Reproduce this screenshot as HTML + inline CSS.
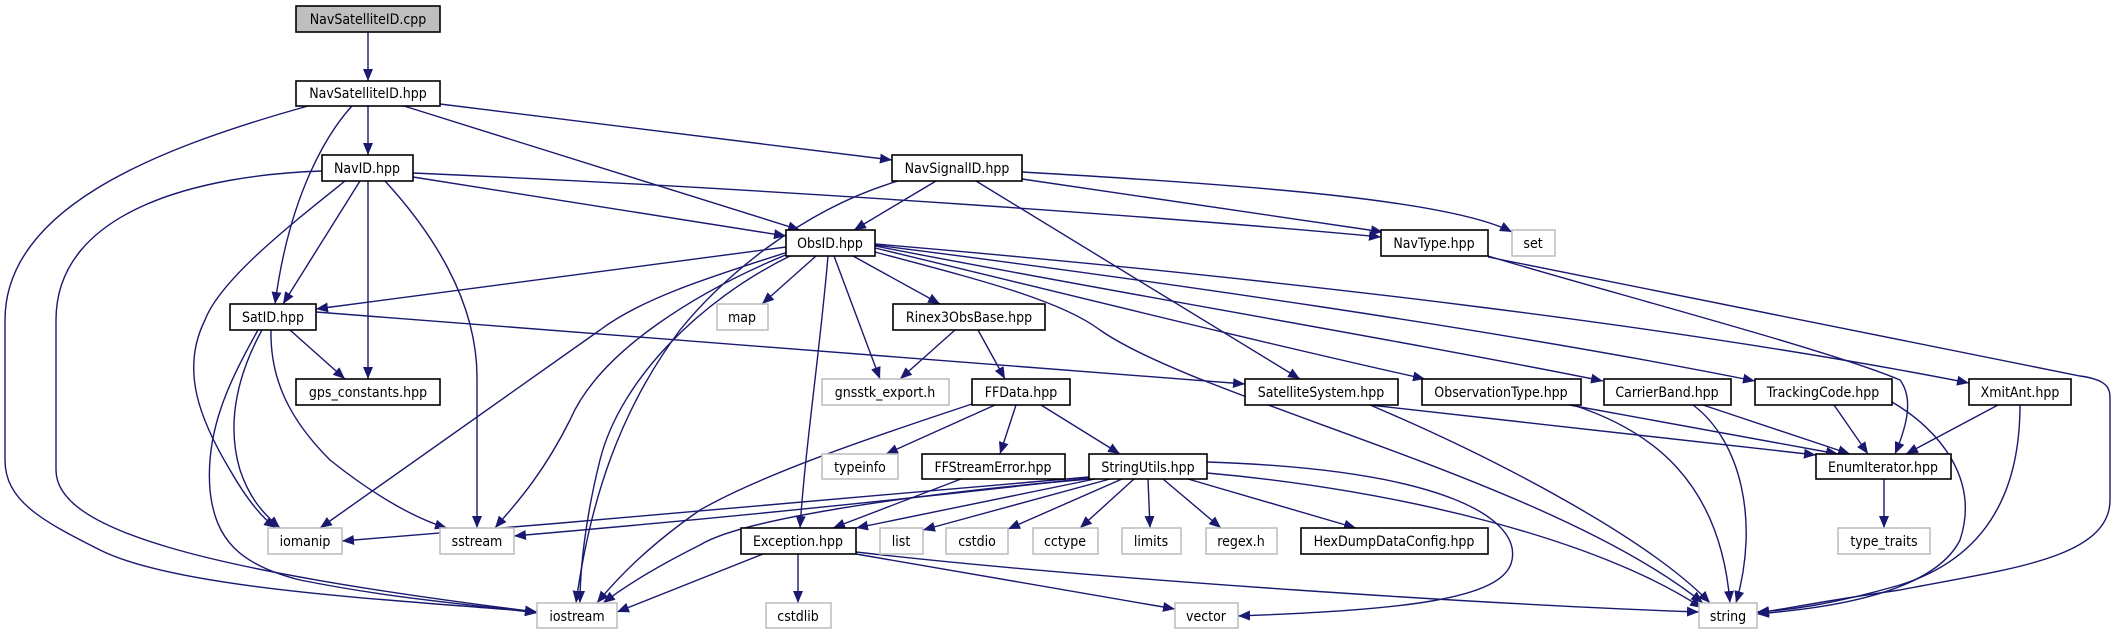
<!DOCTYPE html>
<html><head><meta charset="utf-8"><style>
html,body{margin:0;padding:0;background:#fff;}
svg{display:block;}
text{font-family:"DejaVu Sans Condensed","Liberation Sans",sans-serif;font-size:14px;fill:#000;text-anchor:middle;}
.e{fill:none;stroke:#191970;stroke-width:1.4;marker-end:url(#a);}
.n{fill:#fff;stroke:#000;stroke-width:1.6;}
.g{fill:#fff;stroke:#bfbfbf;stroke-width:1.6;}
</style></head><body>
<svg width="2115" height="635" viewBox="0 0 2115 635" xmlns="http://www.w3.org/2000/svg">
<defs><marker id="a" markerUnits="userSpaceOnUse" markerWidth="14" markerHeight="12" refX="12" refY="5" orient="auto"><path d="M0,0 L12,5 L0,10 Z" fill="#191970"/></marker></defs>
<g>
<path class="e" d="M368,32 L368,81"/>
<path class="e" d="M368,106 L368,155"/>
<path class="e" d="M352,106 C330,130 290,190 275,304"/>
<path class="e" d="M308,106 C150,150 5,210 5,320 L5,460 C5,500 40,520 100,550 C180,590 400,600 537,612"/>
<path class="e" d="M360,181 L283,304"/>
<path class="e" d="M368,181 L368,379"/>
<path class="e" d="M385,181 C430,230 478,300 477,380 L477,528"/>
<path class="e" d="M322,171 C200,175 56,210 56,320 L56,470 C56,530 200,570 537,612"/>
<path class="e" d="M345,181 C290,225 220,280 205,320 C180,370 200,420 230,470 C250,505 265,520 276,528"/>
<path class="e" d="M413,177 L786,236"/>
<path class="e" d="M404,106 L800,230"/>
<path class="e" d="M440,104 L892,160"/>
<path class="e" d="M413,173 C800,190 1200,220 1381,237"/>
<path class="e" d="M936,181 L854,230"/>
<path class="e" d="M898,181 C800,210 720,280 680,330 C620,410 590,500 576,603"/>
<path class="e" d="M976,181 L1300,379"/>
<path class="e" d="M1022,179 L1383,232"/>
<path class="e" d="M1022,172 C1250,185 1450,200 1512,232"/>
<path class="e" d="M1488,256 C1600,290 1830,350 1900,380 C1915,400 1905,430 1895,454"/>
<path class="e" d="M1488,257 L2080,376 C2110,380 2110,390 2110,400 L2110,500 C2110,560 2000,570 1900,590 C1830,600 1790,608 1757,613"/>
<path class="e" d="M786,247 L316,309"/>
<path class="e" d="M788,252 C700,280 640,300 600,330 L320,528"/>
<path class="e" d="M788,254 C700,290 600,350 570,420 C540,480 510,510 495,528"/>
<path class="e" d="M790,256 C700,300 620,380 600,460 C585,520 580,570 580,603"/>
<path class="e" d="M816,256 L762,304"/>
<path class="e" d="M834,256 L880,379"/>
<path class="e" d="M828,256 C820,350 805,450 800,528"/>
<path class="e" d="M853,256 L940,304"/>
<path class="e" d="M875,252 C980,280 1060,300 1100,330 C1200,400 1550,480 1703,603"/>
<path class="e" d="M875,248 C1050,290 1250,340 1425,379"/>
<path class="e" d="M875,246 C1100,290 1400,340 1603,381"/>
<path class="e" d="M875,245 C1150,280 1500,330 1755,381"/>
<path class="e" d="M875,244 C1300,280 1700,330 1969,383"/>
<path class="e" d="M290,330 L345,379"/>
<path class="e" d="M262,330 C240,370 225,420 240,470 C250,500 265,515 280,528"/>
<path class="e" d="M258,330 C230,380 205,430 210,490 C215,540 240,565 300,580 C400,600 480,605 537,613"/>
<path class="e" d="M271,330 C270,380 290,420 330,460 C380,500 420,520 447,528"/>
<path class="e" d="M316,312 L1245,384"/>
<path class="e" d="M955,330 L900,379"/>
<path class="e" d="M978,330 L1005,379"/>
<path class="e" d="M972,404 C900,428 770,470 700,510 C650,545 620,575 597,603"/>
<path class="e" d="M995,405 L886,454"/>
<path class="e" d="M1016,405 L1000,454"/>
<path class="e" d="M1041,405 L1120,454"/>
<path class="e" d="M961,479 L833,528"/>
<path class="e" d="M1089,477 C900,495 600,520 342,541"/>
<path class="e" d="M1089,478 C900,500 700,520 514,536"/>
<path class="e" d="M1090,479 C900,495 740,520 700,545 C650,570 620,590 603,603"/>
<path class="e" d="M1095,479 L856,528"/>
<path class="e" d="M1110,479 L923,530"/>
<path class="e" d="M1122,479 L1008,529"/>
<path class="e" d="M1134,479 L1080,528"/>
<path class="e" d="M1148,479 L1150,528"/>
<path class="e" d="M1163,479 L1221,528"/>
<path class="e" d="M1188,479 L1356,528"/>
<path class="e" d="M1207,473 C1400,490 1600,540 1702,608"/>
<path class="e" d="M1207,462 C1450,470 1520,520 1512,560 C1505,600 1400,610 1238,616"/>
<path class="e" d="M763,554 L617,612"/>
<path class="e" d="M798,554 L798,603"/>
<path class="e" d="M856,554 L1175,609"/>
<path class="e" d="M856,552 C1100,580 1500,605 1699,612"/>
<path class="e" d="M1361,404 L1816,455"/>
<path class="e" d="M1370,405 C1500,460 1650,540 1710,603"/>
<path class="e" d="M1564,404 L1838,454"/>
<path class="e" d="M1573,405 C1650,430 1720,480 1730,603"/>
<path class="e" d="M1703,405 L1850,454"/>
<path class="e" d="M1693,405 C1740,440 1760,520 1736,603"/>
<path class="e" d="M1834,405 L1868,454"/>
<path class="e" d="M1892,402 C1940,430 1980,480 1960,540 C1930,600 1800,610 1757,614"/>
<path class="e" d="M1998,405 L1906,454"/>
<path class="e" d="M2020,405 C2020,500 1980,560 1900,585 C1830,605 1790,610 1757,612"/>
<path class="e" d="M1884,479 L1884,528"/>
</g>
<g>
<rect x="296" y="6" width="144" height="26" fill="#bfbfbf" stroke="#000" stroke-width="1.6"/><text x="368" y="24">NavSatelliteID.cpp</text>
<rect class="n" x="296" y="81" width="144" height="25"/><text x="368" y="98">NavSatelliteID.hpp</text>
<rect class="n" x="322" y="155" width="91" height="26"/><text x="367" y="173">NavID.hpp</text>
<rect class="n" x="230" y="304" width="86" height="26"/><text x="273" y="322">SatID.hpp</text>
<rect class="n" x="296" y="379" width="144" height="26"/><text x="368" y="397">gps_constants.hpp</text>
<rect class="g" x="268" y="528" width="74" height="26"/><text x="305" y="546">iomanip</text>
<rect class="g" x="440" y="528" width="74" height="26"/><text x="477" y="546">sstream</text>
<rect class="g" x="537" y="603" width="80" height="25"/><text x="577" y="621">iostream</text>
<rect class="n" x="892" y="155" width="130" height="26"/><text x="957" y="173">NavSignalID.hpp</text>
<rect class="n" x="786" y="230" width="89" height="26"/><text x="830" y="248">ObsID.hpp</text>
<rect class="g" x="717" y="304" width="51" height="26"/><text x="742" y="322">map</text>
<rect class="n" x="893" y="304" width="152" height="26"/><text x="969" y="322">Rinex3ObsBase.hpp</text>
<rect class="n" x="1381" y="230" width="107" height="26"/><text x="1434" y="248">NavType.hpp</text>
<rect class="g" x="1512" y="230" width="43" height="26"/><text x="1533" y="248">set</text>
<rect class="g" x="822" y="379" width="127" height="26"/><text x="885" y="397">gnsstk_export.h</text>
<rect class="n" x="972" y="379" width="98" height="26"/><text x="1021" y="397">FFData.hpp</text>
<rect class="n" x="1245" y="379" width="153" height="26"/><text x="1321" y="397">SatelliteSystem.hpp</text>
<rect class="g" x="822" y="454" width="76" height="25"/><text x="860" y="472">typeinfo</text>
<rect class="n" x="922" y="454" width="143" height="25"/><text x="993" y="472">FFStreamError.hpp</text>
<rect class="n" x="1089" y="454" width="118" height="25"/><text x="1148" y="472">StringUtils.hpp</text>
<rect class="n" x="741" y="528" width="115" height="26"/><text x="798" y="546">Exception.hpp</text>
<rect class="g" x="880" y="528" width="43" height="26"/><text x="901" y="546">list</text>
<rect class="g" x="946" y="528" width="62" height="26"/><text x="977" y="546">cstdio</text>
<rect class="g" x="1033" y="528" width="65" height="26"/><text x="1065" y="546">cctype</text>
<rect class="g" x="1122" y="528" width="59" height="26"/><text x="1151" y="546">limits</text>
<rect class="g" x="1206" y="528" width="71" height="26"/><text x="1241" y="546">regex.h</text>
<rect class="n" x="1301" y="528" width="187" height="26"/><text x="1394" y="546">HexDumpDataConfig.hpp</text>
<rect class="g" x="766" y="603" width="65" height="25"/><text x="798" y="621">cstdlib</text>
<rect class="g" x="1175" y="603" width="63" height="25"/><text x="1206" y="621">vector</text>
<rect class="n" x="1422" y="379" width="159" height="26"/><text x="1501" y="397">ObservationType.hpp</text>
<rect class="n" x="1604" y="379" width="127" height="26"/><text x="1667" y="397">CarrierBand.hpp</text>
<rect class="n" x="1755" y="379" width="137" height="26"/><text x="1823" y="397">TrackingCode.hpp</text>
<rect class="n" x="1969" y="379" width="102" height="26"/><text x="2020" y="397">XmitAnt.hpp</text>
<rect class="n" x="1816" y="454" width="135" height="25"/><text x="1883" y="472">EnumIterator.hpp</text>
<rect class="g" x="1838" y="528" width="92" height="26"/><text x="1884" y="546">type_traits</text>
<rect class="g" x="1699" y="603" width="58" height="25"/><text x="1728" y="621">string</text>
</g>
</svg>
</body></html>
